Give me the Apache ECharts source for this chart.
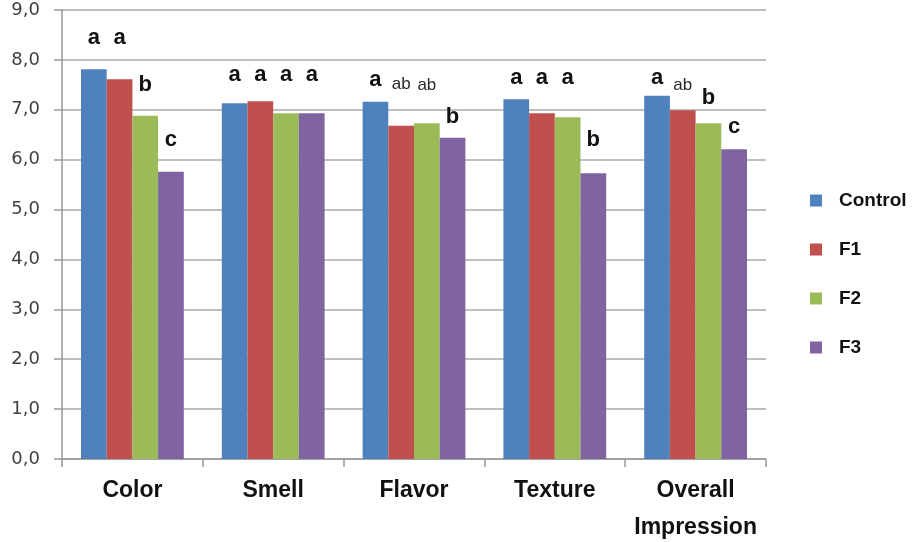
<!DOCTYPE html>
<html>
<head>
<meta charset="utf-8">
<script src="https://cdn.jsdelivr.net/npm/echarts@6/dist/echarts.min.js"></script>
<style>
  html, body { margin: 0; padding: 0; background: #fff; }
  #chart { width: 921px; height: 542px; }
</style>
</head>
<body>
<div id="chart"></div>
<script>
// Sensory attributes on the x axis
const categories = ['Color', 'Smell', 'Flavor', 'Texture', 'Overall\nImpression'];
const seriesNames = ['Control', 'F1', 'F2', 'F3'];

// Mean scores per formulation
const controlScores = [7.81, 7.13, 7.16, 7.21, 7.28];
const f1Scores = [7.61, 7.17, 6.68, 6.93, 6.99];
const f2Scores = [6.88, 6.93, 6.73, 6.85, 6.73];
const f3Scores = [5.76, 6.93, 6.44, 5.73, 6.21];

// Significance letters shown above each bar
const controlLetters = ['a', 'a', 'a', 'a', 'a'];
const f1Letters = ['a', 'a', 'ab', 'a', 'ab'];
const f2Letters = ['b', 'a', 'ab', 'a', 'b'];
const f3Letters = ['c', 'a', 'b', 'b', 'c'];

// Y axis ticks
const yTicks = [0, 1, 2, 3, 4, 5, 6, 7, 8, 9];

// Layout: how far (px) each letter's centre sits above its bar top
const letterRise = [
  [31, 28, 22, 21, 18],
  [41, 26, 41, 35, 25],
  [31, 38, 38, 39, 25],
  [32, 38, 21, 33, 22]
];

const palette = ['#4F81BD', '#C0504D', '#9BBB59', '#8064A2'];
const scores = [controlScores, f1Scores, f2Scores, f3Scores];
const letters = [controlLetters, f1Letters, f2Letters, f3Letters];

const FONT = '"Liberation Sans", Arial, sans-serif';

function letterLabel(text, rise) {
  const small = text.length > 1;
  return {
    show: true,
    position: 'top',
    distance: rise - 12,
    formatter: text,
    fontFamily: FONT,
    fontSize: small ? 17 : 22,
    fontWeight: small ? 'normal' : 'bold',
    lineHeight: 24,
    color: small ? '#2a2a2a' : '#111'
  };
}

const series = seriesNames.map((name, s) => ({
  name: name,
  type: 'bar',
  barGap: '0%',
  barCategoryGap: '27%',
  itemStyle: { color: palette[s] },
  data: scores[s].map((v, i) => ({
    value: v,
    label: letterLabel(letters[s][i], letterRise[s][i])
  }))
}));

const chart = echarts.init(document.getElementById('chart'), null, { renderer: 'canvas' });
chart.setOption({
  animation: false,
  backgroundColor: '#fff',
  grid: {
    left: 62, right: 155, top: 10, bottom: 83,
    containLabel: false,
    outerBoundsMode: 'none'
  },
  legend: {
    orient: 'vertical',
    left: 805,
    top: 186,
    itemWidth: 12,
    itemHeight: 12,
    itemGap: 30,
    icon: 'rect',
    data: seriesNames,
    textStyle: {
      fontFamily: FONT,
      fontSize: 19,
      fontWeight: 'bold',
      color: '#111',
      padding: [0, 0, 0, 12]
    }
  },
  xAxis: {
    type: 'category',
    data: categories,
    axisLine: { lineStyle: { color: '#999', width: 1.5 } },
    axisTick: { show: true, interval: 0, length: 8, lineStyle: { color: '#999', width: 1.5 } },
    axisLabel: {
      interval: 0,
      fontFamily: FONT,
      fontSize: 23,
      fontWeight: 'bold',
      color: '#111',
      margin: 13,
      lineHeight: 37
    }
  },
  yAxis: {
    type: 'value',
    min: yTicks[0],
    max: yTicks[yTicks.length - 1],
    interval: 1,
    axisLine: { show: true, lineStyle: { color: '#999', width: 1.5 } },
    axisTick: { show: true, length: 8, lineStyle: { color: '#999', width: 1.5 } },
    splitLine: { lineStyle: { color: '#aaa', width: 1.5 } },
    axisLabel: {
      fontFamily: '"DejaVu Sans", Verdana, sans-serif',
      fontSize: 18,
      color: '#404040',
      margin: 22,
      formatter: v => v.toFixed(1).replace('.', ',')
    }
  },
  series: series
});
</script>
</body>
</html>
